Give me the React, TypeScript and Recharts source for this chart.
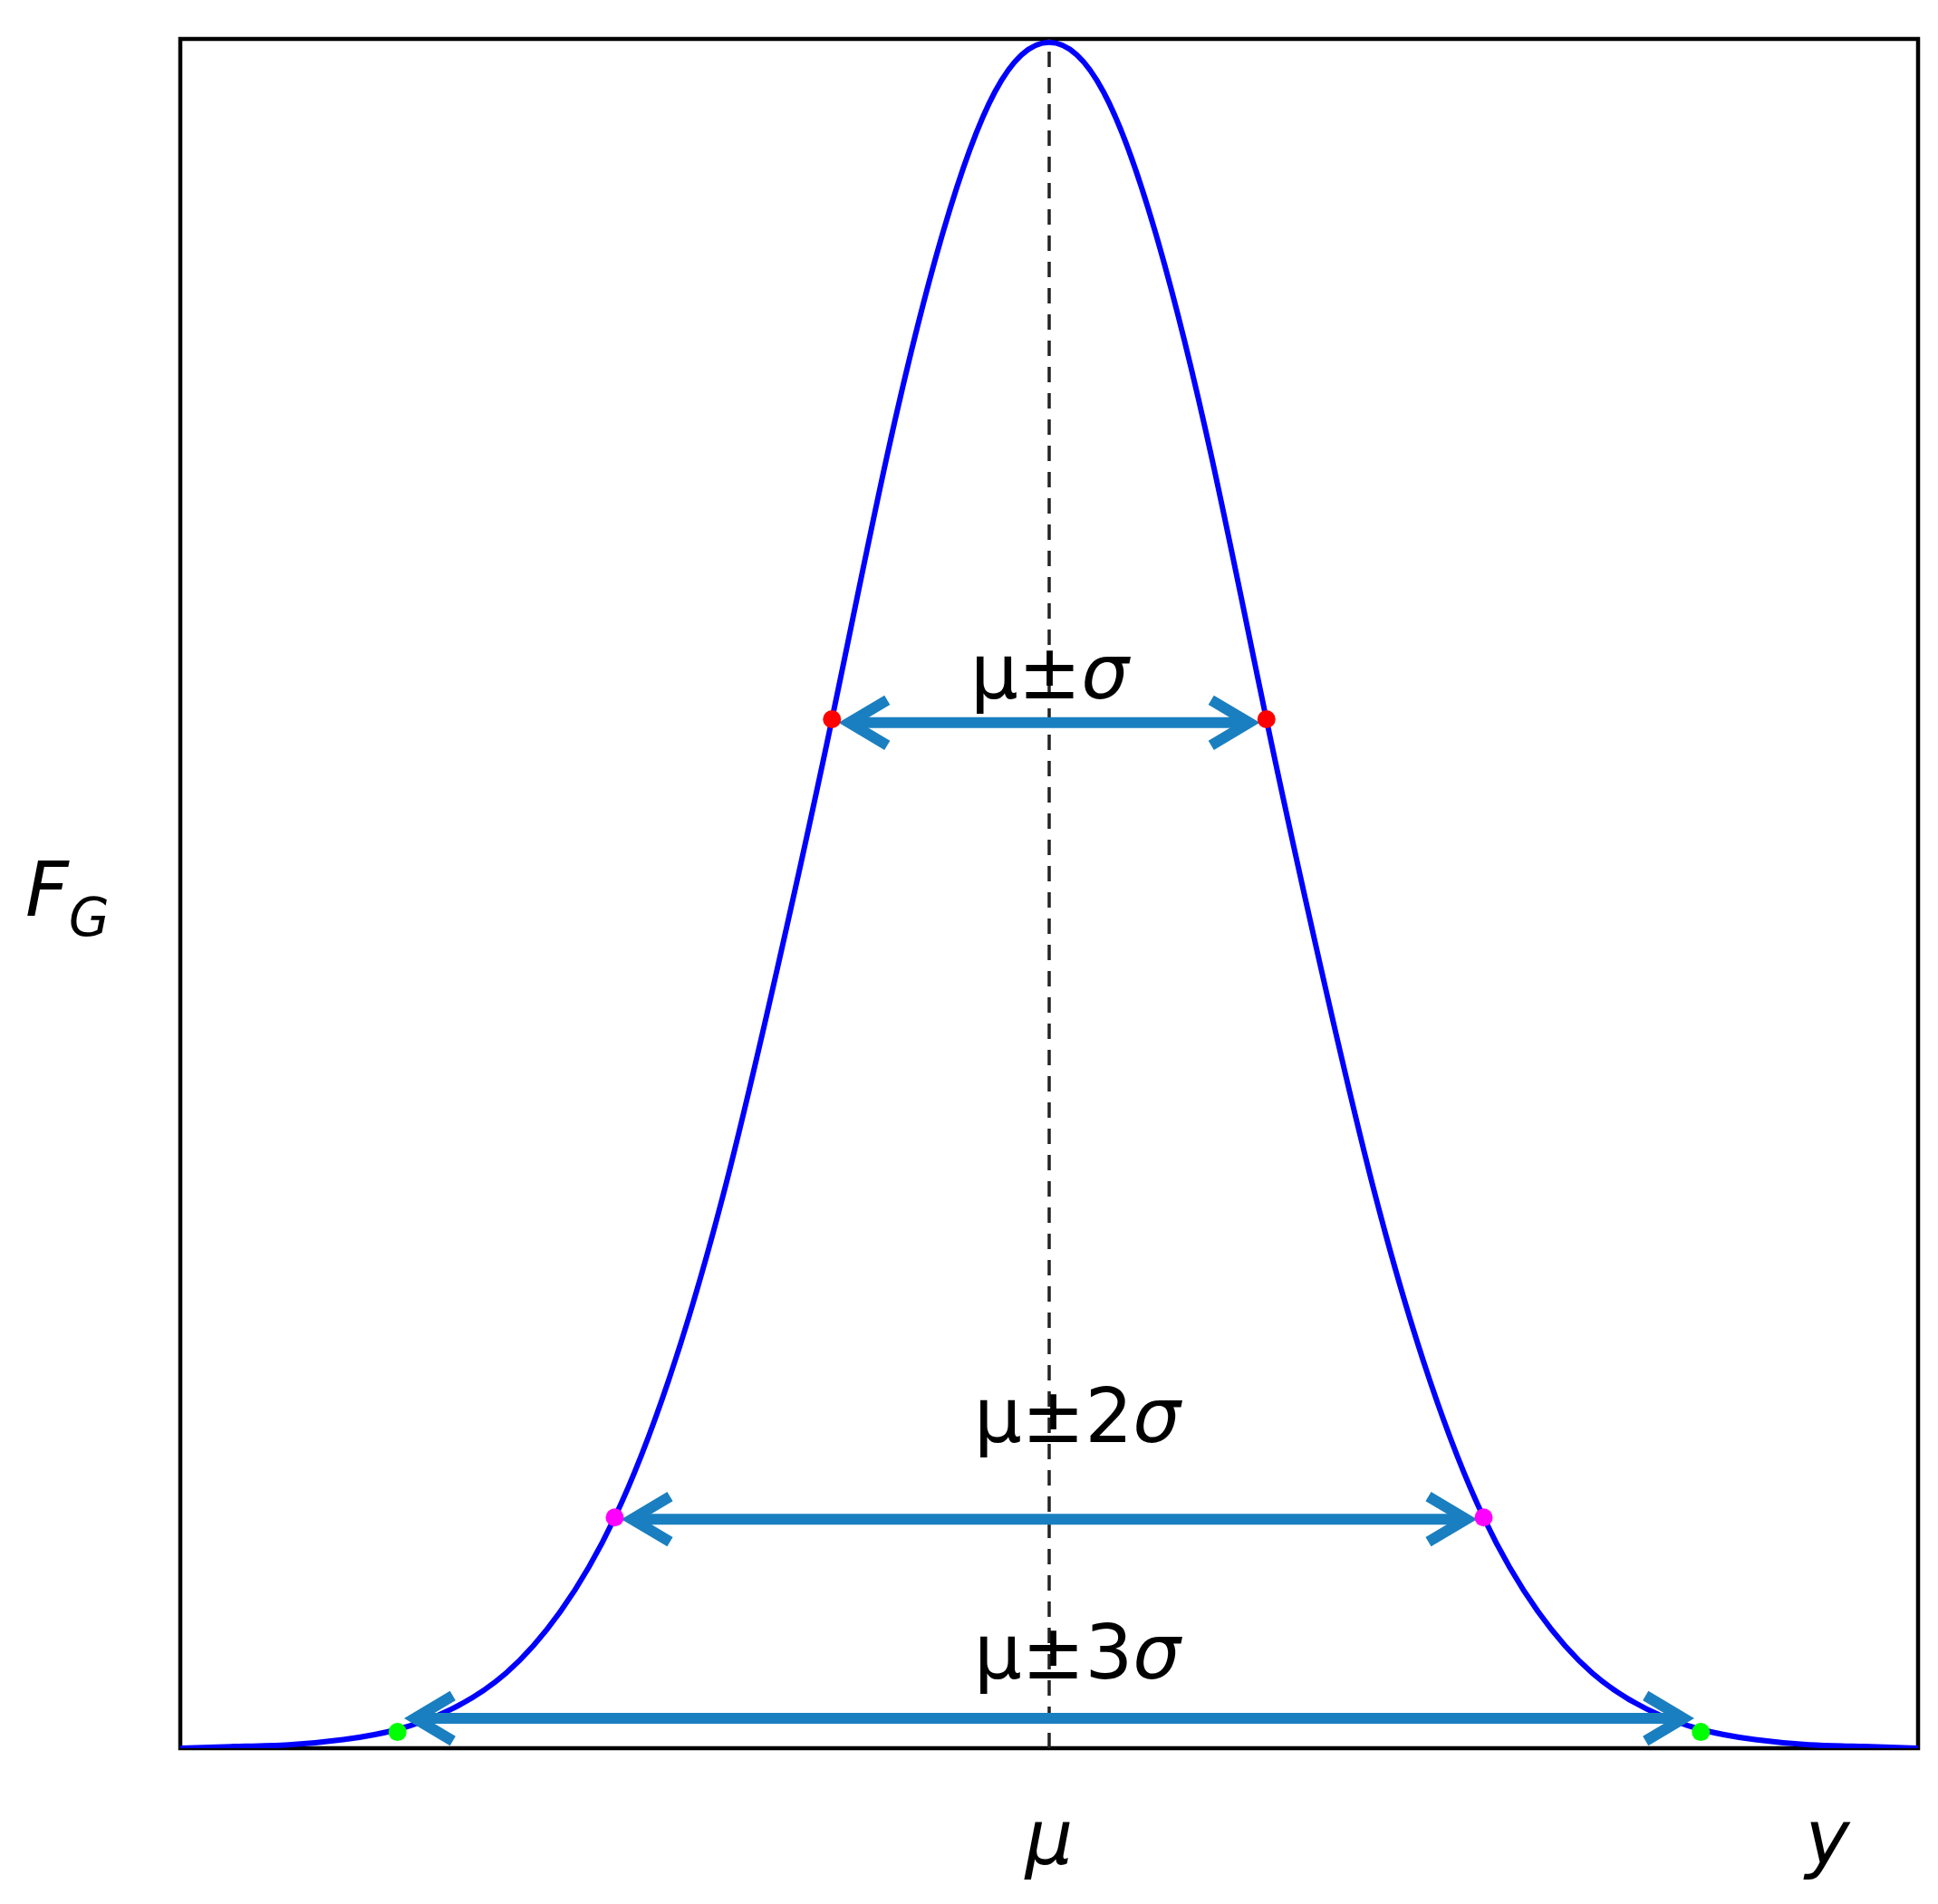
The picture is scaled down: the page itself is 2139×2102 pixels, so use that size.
import {
  ComposedChart,
  Line,
  XAxis,
  YAxis,
  ReferenceArea,
  ReferenceLine,
  ReferenceDot,
} from "recharts";

// curve, x in sigma units around mu, F normalised to the plot height
const curveX = [
  -4, -3.75, -3.5, -3.25, -3, -2.75, -2.5, -2.25, -2, -1.75, -1.5, -1.25, -1,
  -0.75, -0.5, -0.25, 0, 0.25, 0.5, 0.75, 1, 1.25, 1.5, 1.75, 2, 2.25, 2.5,
  2.75, 3, 3.25, 3.5, 3.75, 4,
];
const curveF = [
  0.0, 0.001, 0.002, 0.005, 0.011, 0.023, 0.044, 0.08, 0.135, 0.216, 0.324,
  0.457, 0.602, 0.754, 0.882, 0.969, 0.998, 0.969, 0.882, 0.754, 0.602, 0.457,
  0.324, 0.216, 0.135, 0.08, 0.044, 0.023, 0.011, 0.005, 0.002, 0.001, 0.0,
];

// marked points at mu±sigma, mu±2sigma, mu±3sigma
const sigmaDotsX = [-1, 1];
const sigmaDotsF = [0.602, 0.602];
const twoSigmaDotsX = [-2, 2];
const twoSigmaDotsF = [0.135, 0.135];
const threeSigmaDotsX = [-3, 3];
const threeSigmaDotsF = [0.0095, 0.0095];

// double arrows: half span (in sigma) and height
const arrowHalfSpan = [1, 2, 3];
const arrowLevel = [0.6, 0.134, 0.0175];

// annotation texts and where they sit
const bandMultiplier = ["", "2", "3"];
const bandLabelX = [-0.363, -0.346, -0.346];
const bandLabelF = [0.614, 0.179, 0.041];

const xTicks = [0];

const rows = curveX.map((x, i) => ({ x, f: curveF[i] }));

const FONT = "'DejaVu Sans', 'Liberation Sans', sans-serif";
const ARROW = "#1a7fc0";
const FS = 83;

function DoubleArrow(p: any) {
  const { x1, x2, y1 } = p;
  const left = Math.min(x1, x2) + 19;
  const right = Math.max(x1, x2) - 19;
  const L = 42;
  const H = 25;
  return (
    <g
      stroke={ARROW}
      strokeWidth={12}
      fill="none"
      strokeLinejoin="miter"
      strokeLinecap="butt"
    >
      <line x1={left} y1={y1} x2={right} y2={y1} />
      <polyline
        points={`${left + L},${y1 - H} ${left},${y1} ${left + L},${y1 + H}`}
      />
      <polyline
        points={`${right - L},${y1 - H} ${right},${y1} ${right - L},${y1 + H}`}
      />
    </g>
  );
}

function BandLabel(p: any, mult: string) {
  return (
    <text
      x={p.cx}
      y={p.cy}
      fontFamily={FONT}
      fontSize={FS}
      fill="#000"
      textAnchor="start"
    >
      μ±{mult}
      <tspan fontStyle="italic">σ</tspan>
    </text>
  );
}

function MuTick(p: any) {
  return (
    <text
      x={p.x}
      y={p.y + 128}
      fontFamily={FONT}
      fontSize={FS}
      fontStyle="italic"
      textAnchor="middle"
      fill="#000"
    >
      μ
    </text>
  );
}

function YLabel(p: any) {
  const vb = p.viewBox ?? { x: 0, y: 43, width: 199, height: 1887 };
  return (
    <text
      x={vb.x + 28}
      y={vb.y + vb.height / 2 + 24}
      fontFamily={FONT}
      fontSize={FS}
      fontStyle="italic"
      fill="#000"
    >
      F
      <tspan dy={22} fontSize={58}>
        G
      </tspan>
    </text>
  );
}

function XLabel(p: any) {
  const vb = p.viewBox ?? { x: 199, y: 1930, width: 1918, height: 172 };
  return (
    <text
      x={vb.x + vb.width - 100}
      y={vb.y + 128}
      fontFamily={FONT}
      fontSize={FS}
      fontStyle="italic"
      textAnchor="middle"
      fill="#000"
    >
      y
    </text>
  );
}

export default function App() {
  return (
    <div style={{ width: 2139, height: 2102, background: "#fff" }}>
      <style>{"body{margin:0;background:#fff}"}</style>
      <ComposedChart
        width={2139}
        height={2102}
        data={rows}
        margin={{ top: 43, right: 22, bottom: 0, left: 0 }}
      >
        <XAxis
          dataKey="x"
          type="number"
          domain={[-4, 4]}
          ticks={xTicks}
          allowDataOverflow
          height={172}
          axisLine={false}
          tickLine={false}
          tickSize={0}
          tickMargin={0}
          tick={MuTick}
          label={{ content: XLabel }}
        />
        <YAxis
          type="number"
          domain={[0, 1]}
          allowDataOverflow
          width={199}
          tick={false}
          axisLine={false}
          tickLine={false}
          label={{ content: YLabel }}
        />
        <ReferenceArea
          x1={-4}
          x2={4}
          y1={0}
          y2={1}
          fill="none"
          fillOpacity={0}
          stroke="#000"
          strokeWidth={4.5}
          ifOverflow="visible"
        />
        <ReferenceLine
          x={0}
          stroke="#222"
          strokeWidth={3.5}
          strokeDasharray="17 12"
        />
        <Line
          type="natural"
          dataKey="f"
          stroke="#0000ff"
          strokeWidth={6}
          dot={false}
          activeDot={false}
          isAnimationActive={false}
        />
        {sigmaDotsX.map((x, i) => (
          <ReferenceDot
            key={`s1-${i}`}
            x={x}
            y={sigmaDotsF[i]}
            r={10}
            fill="#ff0000"
            stroke="none"
          />
        ))}
        {twoSigmaDotsX.map((x, i) => (
          <ReferenceDot
            key={`s2-${i}`}
            x={x}
            y={twoSigmaDotsF[i]}
            r={10}
            fill="#ff00ff"
            stroke="none"
          />
        ))}
        {threeSigmaDotsX.map((x, i) => (
          <ReferenceDot
            key={`s3-${i}`}
            x={x}
            y={threeSigmaDotsF[i]}
            r={10}
            fill="#00ff00"
            stroke="none"
          />
        ))}
        {arrowHalfSpan.map((h, i) => (
          <ReferenceLine
            key={`arrow-${i}`}
            segment={[
              { x: -h, y: arrowLevel[i] },
              { x: h, y: arrowLevel[i] },
            ]}
            shape={DoubleArrow}
          />
        ))}
        {bandMultiplier.map((m, i) => (
          <ReferenceDot
            key={`lbl-${i}`}
            x={bandLabelX[i]}
            y={bandLabelF[i]}
            r={0}
            shape={(p: any) => BandLabel(p, m)}
          />
        ))}
      </ComposedChart>
    </div>
  );
}
